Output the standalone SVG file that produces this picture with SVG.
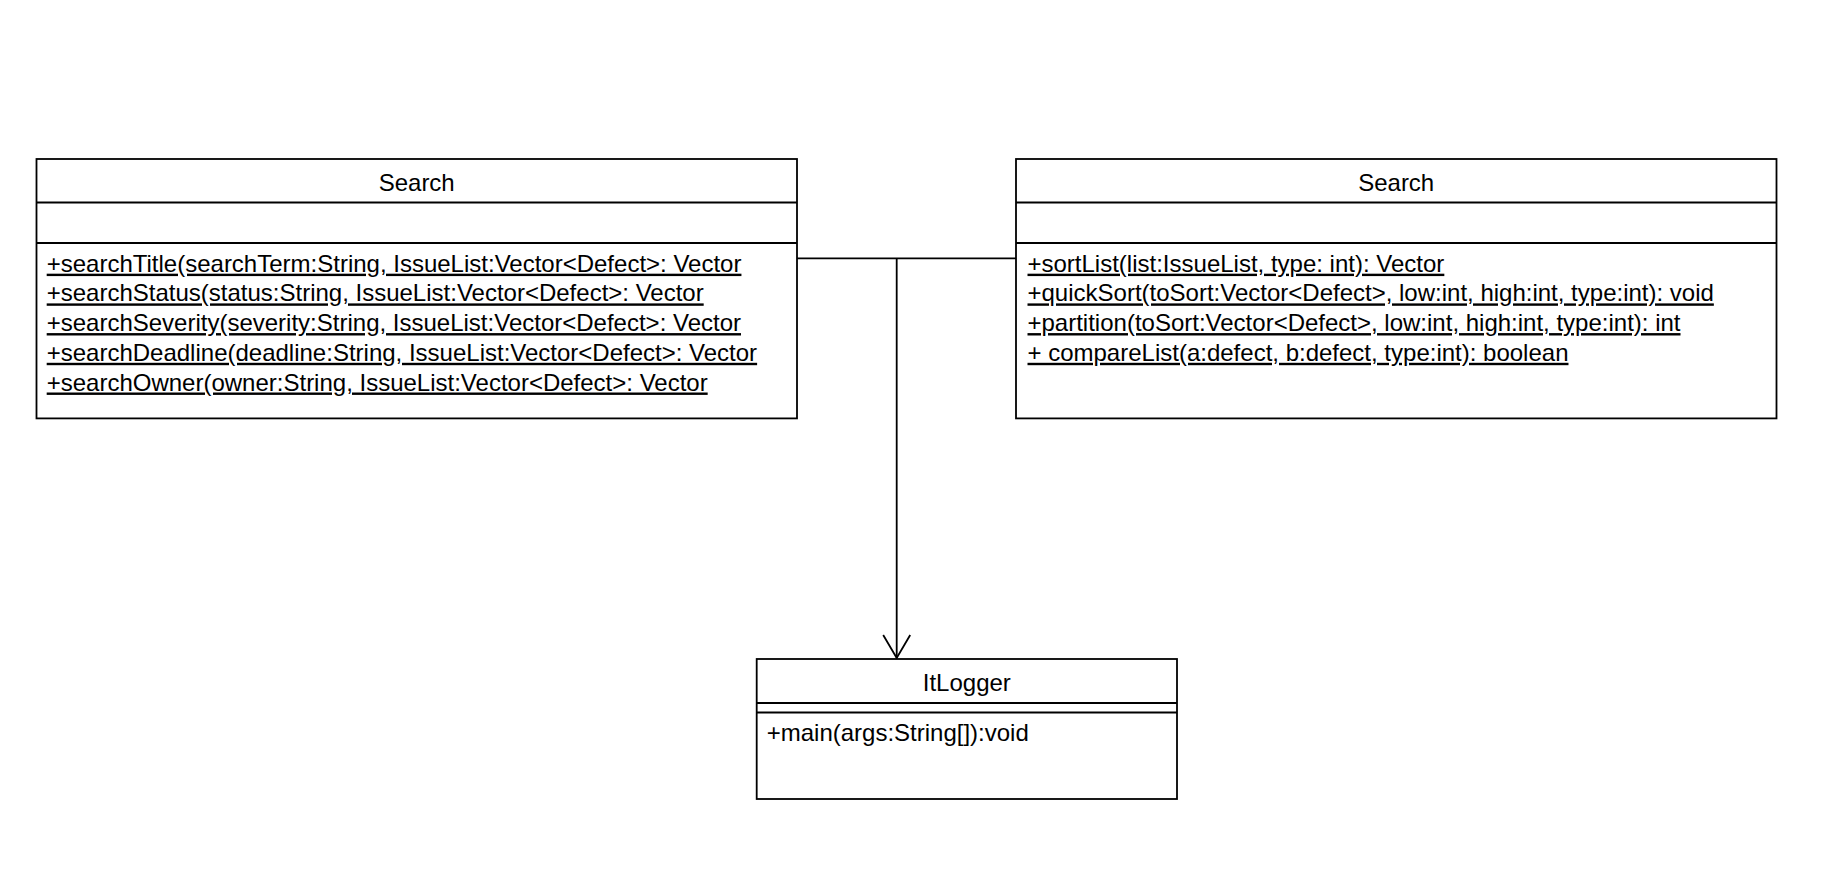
<svg xmlns="http://www.w3.org/2000/svg" width="1848" height="892" viewBox="0 0 1848 892">
<style>
.box{fill:#fff;stroke:#000;stroke-width:1.8}
.ln{stroke:#000;stroke-width:1.8;fill:none}
.t{font-family:"Liberation Sans",Arial,sans-serif;font-size:24px;fill:#000}
.c{text-anchor:middle}
.u{text-decoration:underline;text-decoration-skip-ink:none}
</style>
<defs>
<marker id="open" markerUnits="userSpaceOnUse" markerWidth="40" markerHeight="40" refX="0" refY="0" orient="auto" overflow="visible" viewBox="-30 -20 40 40">
<path d="M-23,-13.5 L0,0 L-23,13.5" fill="none" stroke="#000" stroke-width="1.8"/>
</marker>
</defs>
<rect width="1848" height="892" fill="#fff"/>
<g id="connectors">
<path class="ln" d="M797,258.3 H1016"/>
<path class="ln" d="M896.7,258.3 V658" marker-end="url(#open)"/>
</g>
<g id="search-left">
<rect class="box" x="36.5" y="159" width="760.5" height="259.4"/>
<line class="ln" x1="36.5" y1="202.5" x2="797" y2="202.5"/>
<line class="ln" x1="36.5" y1="243" x2="797" y2="243"/>
<text class="t c" x="416.7" y="190.5">Search</text>
<text class="t u" x="46.7" y="271.7">+searchTitle(searchTerm:String, IssueList:Vector&lt;Defect&gt;: Vector</text>
<text class="t u" x="46.7" y="301.4">+searchStatus(status:String, IssueList:Vector&lt;Defect&gt;: Vector</text>
<text class="t u" x="46.7" y="331.1">+searchSeverity(severity:String, IssueList:Vector&lt;Defect&gt;: Vector</text>
<text class="t u" x="46.7" y="360.8">+searchDeadline(deadline:String, IssueList:Vector&lt;Defect&gt;: Vector</text>
<text class="t u" x="46.7" y="390.5">+searchOwner(owner:String, IssueList:Vector&lt;Defect&gt;: Vector</text>
</g>
<g id="search-right">
<rect class="box" x="1016" y="159" width="760.5" height="259.4"/>
<line class="ln" x1="1016" y1="202.5" x2="1776.5" y2="202.5"/>
<line class="ln" x1="1016" y1="243" x2="1776.5" y2="243"/>
<text class="t c" x="1396.2" y="190.5">Search</text>
<text class="t u" x="1027.5" y="271.7">+sortList(list:IssueList, type: int): Vector</text>
<text class="t u" x="1027.5" y="301.4">+quickSort(toSort:Vector&lt;Defect&gt;, low:int, high:int, type:int): void</text>
<text class="t u" x="1027.5" y="331.1">+partition(toSort:Vector&lt;Defect&gt;, low:int, high:int, type:int): int</text>
<text class="t u" x="1027.5" y="360.8">+ compareList(a:defect, b:defect, type:int): boolean</text>
</g>
<g id="itlogger">
<rect class="box" x="756.7" y="659" width="420.3" height="140"/>
<line class="ln" x1="756.7" y1="703" x2="1177" y2="703"/>
<line class="ln" x1="756.7" y1="712.5" x2="1177" y2="712.5"/>
<text class="t c" x="966.8" y="690.5">ItLogger</text>
<text class="t" x="766.7" y="740.7">+main(args:String[]):void</text>
</g>
</svg>
